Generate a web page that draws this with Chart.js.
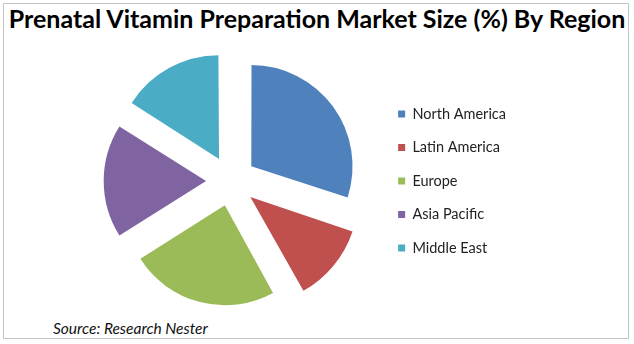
<!DOCTYPE html>
<html>
<head>
<meta charset="utf-8">
<script src="https://cdn.jsdelivr.net/npm/chart.js@4"></script>
<style>
  body { margin: 0; background: #fff; }
  #frame {
    position: absolute; left: 3px; top: 3px; width: 624px; height: 334px;
    border: 1px solid #c4c4c4; background: #fff;
  }
  #title {
    position: absolute; left: 0; top: 3px; width: 634px; text-align: center;
    font-family: Lato, sans-serif; font-weight: 700; font-size: 25px; color: #000;
    white-space: nowrap;
  }
  #source {
    position: absolute; left: 53px; top: 319px;
    font-family: Lato, sans-serif; font-style: italic; font-size: 15.5px; color: #111;
  }
  #wrap { position: absolute; left: 0; top: 50px; }
</style>
</head>
<body>
<div id="frame"></div>
<div id="title">Prenatal Vitamin Preparation Market Size (%) By Region</div>
<div id="wrap"><canvas id="pie" width="634" height="262"></canvas></div>
<div id="source">Source: Research Nester</div>
<script>
  // data
  var regions = ['North America', 'Latin America', 'Europe', 'Asia Pacific', 'Middle East'];
  var shares = [30, 12, 24, 18, 16];
  var colors = ['#4F81BD', '#C0504D', '#9BBB59', '#8064A2', '#4BACC6'];

  var ctx = document.getElementById('pie').getContext('2d');
  var chart = new Chart(ctx, {
    type: 'pie',
    data: {
      labels: regions,
      datasets: [{
        data: shares,
        backgroundColor: colors,
        borderWidth: 0,
        offset: 100 // chart.js draws a quarter of this -> ~25px explode
      }]
    },
    options: {
      responsive: false,
      animation: false,
      devicePixelRatio: 1,
      radius: 100,
      layout: { padding: { left: 83, right: 118, top: 0, bottom: 0 } },
      plugins: {
        tooltip: { enabled: false },
        legend: {
          position: 'right',
          align: 'center',
          labels: {
            boxWidth: 7,
            boxHeight: 7,
            padding: 19,
            color: '#222',
            font: { family: 'Lato, sans-serif', size: 14.5 }
          }
        }
      }
    }
  });
</script>
</body>
</html>
